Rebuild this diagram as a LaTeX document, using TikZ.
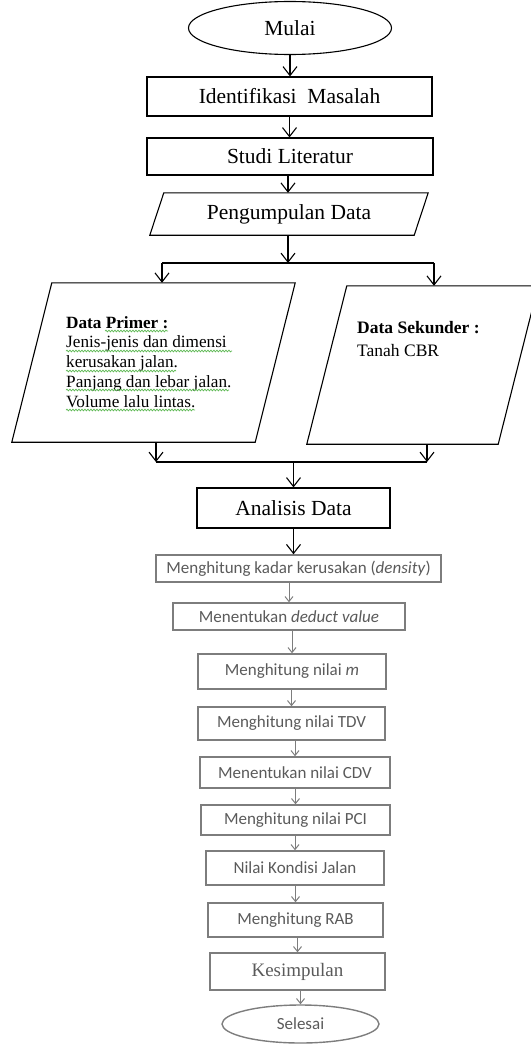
\documentclass[tikz,border=0pt]{standalone}
\usepackage{fontspec}
\setmainfont{Liberation Serif}
\newfontfamily\calfont{Carlito}
\usepackage{xcolor}
\usetikzlibrary{arrows.meta}
\usetikzlibrary{shapes.geometric}
\usetikzlibrary{decorations.pathmorphing}
\definecolor{fgray}{RGB}{90,90,90}
\definecolor{lgray}{RGB}{125,125,125}
\definecolor{sgreen}{RGB}{95,185,85}

\begin{document}
\begin{tikzpicture}[x=1pt,y=-1pt,
flow/.style={-{Straight Barb[length=9pt,width=14pt]}, line width=1.1pt},
subflow/.style={-{Straight Barb[length=5pt,width=8pt]}, line width=1pt, color=lgray},
mainbox/.style={draw, line width=1.1pt, inner sep=0pt, font=\fontsize{21.5}{24}\selectfont},
subbox/.style={draw=lgray, line width=1.4pt, inner sep=0pt, text=fgray, font=\calfont\fontsize{17}{20}\selectfont},
paratext/.style={align=left, anchor=north west, inner sep=0pt},
squiggle/.style={sgreen, line width=0.7pt, decorate, decoration={snake, amplitude=0.9pt, segment length=3pt}}
]

\useasboundingbox (0,0) rectangle (530,1046);

%start:
\node[mainbox, ellipse, minimum width=203, minimum height=53] (mulai) at (290,28) {Mulai};
\node[mainbox, minimum width=285, minimum height=39] (ident) at (289.5,96.5) {Identifikasi\hspace{0.5em}Masalah};
\node[mainbox, minimum width=286, minimum height=37] (studi) at (290,156.5) {Studi Literatur};

%data collection:
\node[inner sep=0pt, minimum width=278, minimum height=42, font=\fontsize{21.5}{24}\selectfont] (kumpul) at (289,214) {Pengumpulan Data};
\draw[line width=1.1pt] ([xshift=14]kumpul.north west) -- (kumpul.north east) -- ([xshift=-14]kumpul.south east) -- (kumpul.south west) -- cycle;

%primary and secondary data:
\node[inner sep=0pt, minimum width=283, minimum height=159] (primer) at (153.5,362.5) {};
\draw[line width=1.1pt] ([xshift=40]primer.north west) -- (primer.north east) -- ([xshift=-40]primer.south east) -- (primer.south west) -- cycle;
\node[paratext, font=\fontsize{17.2}{19.8}\selectfont] (primertxt) at (66,316) {\textbf{Data Primer :}\\
Jenis-jenis dan dimensi\\
kerusakan jalan.\\
Panjang dan lebar jalan.\\
Volume lalu lintas.};
\foreach \xa/\xb/\yy in {105/168/331, 66/232/351, 66/176/371, 66/229/390, 66/195/410}
  \draw[squiggle] (\xa,\yy) -- (\xb,\yy);

\node[inner sep=0pt, minimum width=231, minimum height=158] (sekunder) at (422.5,365) {};
\draw[line width=1.1pt] ([xshift=40]sekunder.north west) -- (sekunder.north east) -- ([xshift=-40]sekunder.south east) -- (sekunder.south west) -- cycle;
\node[paratext, font=\fontsize{17.5}{23}\selectfont] (sekundertxt) at (357,321) {\textbf{Data Sekunder :}\\
Tanah CBR};

%analysis:
\node[mainbox, minimum width=193, minimum height=40] (analisis) at (293.5,508) {Analisis Data};

\node[subbox, minimum width=285, minimum height=27] (kadar) at (298.5,568.5) {Menghitung kadar kerusakan (\textit{density})};
\node[subbox, minimum width=232, minimum height=27] (deduct) at (289,616.5) {Menentukan \textit{deduct value}};
\node[subbox, minimum width=188, minimum height=35] (nilaim) at (292,671.5) {Menghitung nilai \textit{m}};
\node[subbox, minimum width=187, minimum height=33] (tdv) at (291.5,723.5) {Menghitung nilai TDV};
\node[subbox, minimum width=190, minimum height=31] (cdv) at (295,772.5) {Menentukan nilai CDV};
\node[subbox, minimum width=189, minimum height=30] (pci) at (295.5,820) {Menghitung nilai PCI};
\node[subbox, minimum width=178, minimum height=34] (kondisi) at (295,868) {Nilai Kondisi Jalan};
\node[subbox, minimum width=175, minimum height=34] (rab) at (295.5,920) {Menghitung RAB};
\node[subbox, minimum width=175, minimum height=37, font=\fontsize{19}{22}\selectfont] (kesimpulan) at (297.5,971.5) {Kesimpulan};
\node[subbox, ellipse, minimum width=157, minimum height=38] (selesai) at (300.5,1024) {Selesai};

%connectors:
\draw[flow] (mulai.south) -- (mulai.south |- ident.north);
\draw[flow] (ident.south) -- (ident.south |- studi.north);
\coordinate (split) at (288,263);
\coordinate (splitL) at (162,263);
\coordinate (splitR) at (434,263);
\draw[flow] (split |- studi.south) -- (split |- kumpul.north);
\draw[flow] (split |- kumpul.south) -- (split);
\draw[line width=1.1pt] (splitL) -- (splitR);
\draw[flow] (splitL) -- (splitL |- primer.north);
\draw[flow] (splitR) -- (splitR |- sekunder.north);

\coordinate (mergeL) at (156,462);
\coordinate (mergeR) at (427,462);
\draw[flow] (mergeL |- primer.south) -- (mergeL);
\draw[flow] (mergeR |- sekunder.south) -- (mergeR);
\draw[line width=1.1pt] (mergeL) -- (mergeR);
\draw[flow] (analisis.north |- mergeL) -- (analisis.north);
\draw[flow] (analisis.south) -- (analisis.south |- kadar.north);

\draw[subflow] (deduct.north |- kadar.south) -- (deduct.north);
\draw[subflow] (nilaim.north |- deduct.south) -- (nilaim.north);
\draw[subflow] (tdv.north |- nilaim.south) -- (tdv.north);
\draw[subflow] (cdv.north |- tdv.south) -- (cdv.north);
\draw[subflow] (pci.north |- cdv.south) -- (pci.north);
\draw[subflow] (kondisi.north |- pci.south) -- (kondisi.north);
\draw[subflow] (rab.north |- kondisi.south) -- (rab.north);
\draw[subflow] (kesimpulan.north |- rab.south) -- (kesimpulan.north);
\draw[subflow] (selesai.north |- kesimpulan.south) -- (selesai.north);

\end{tikzpicture}
\end{document}
